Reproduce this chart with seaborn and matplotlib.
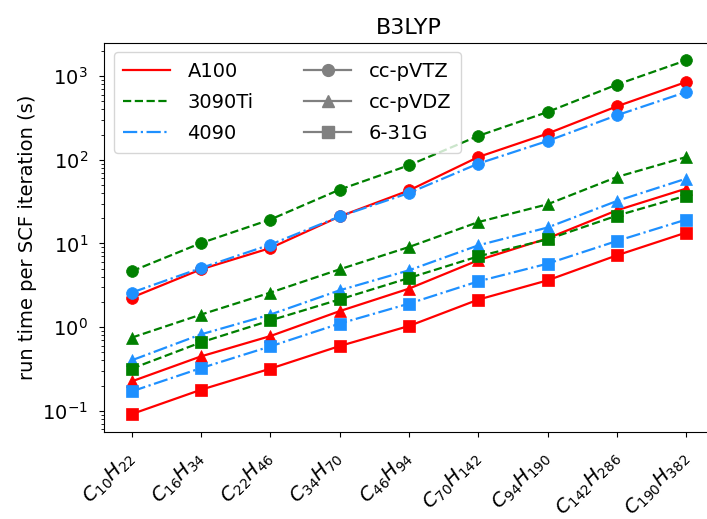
import matplotlib
matplotlib.use("Agg")
import matplotlib.pyplot as plt
import seaborn as sns
import pandas as pd
from matplotlib.lines import Line2D

molecules = ["C10H22", "C16H34", "C22H46", "C34H70", "C46H94",
             "C70H142", "C94H190", "C142H286", "C190H382"]
tick_labels = [r"$C_{10}H_{22}$", r"$C_{16}H_{34}$", r"$C_{22}H_{46}$",
               r"$C_{34}H_{70}$", r"$C_{46}H_{94}$", r"$C_{70}H_{142}$",
               r"$C_{94}H_{190}$", r"$C_{142}H_{286}$", r"$C_{190}H_{382}$"]

gpus = ["A100", "3090Ti", "4090"]
bases = ["cc-pVTZ", "cc-pVDZ", "6-31G"]

# run time per SCF iteration (s)
a100_tz = [2.25, 4.9, 8.8, 21, 43, 108, 206, 436, 853]
a100_dz = [0.224, 0.446, 0.78, 1.55, 2.88, 6.3, 11.5, 24.9, 45.3]
a100_631g = [0.091, 0.178, 0.318, 0.593, 1.03, 2.13, 3.62, 7.21, 13.5]

rtx3090ti_tz = [4.64, 10.1, 19.3, 44, 86, 193, 373, 794, 1549]
rtx3090ti_dz = [0.747, 1.41, 2.58, 4.9, 9.06, 18.0, 29.4, 62.3, 108]
rtx3090ti_631g = [0.318, 0.656, 1.2, 2.14, 3.86, 7.01, 11.2, 21.5, 37.3]

rtx4090_tz = [2.58, 5.08, 9.68, 21, 40.1, 90, 168, 341, 647]
rtx4090_dz = [0.40, 0.818, 1.41, 2.75, 4.77, 9.49, 15.5, 32.2, 59.6]
rtx4090_631g = [0.170, 0.323, 0.587, 1.10, 1.905, 3.52, 5.73, 10.7, 19.3]

timings = {
    ("A100", "cc-pVTZ"): a100_tz, ("A100", "cc-pVDZ"): a100_dz, ("A100", "6-31G"): a100_631g,
    ("3090Ti", "cc-pVTZ"): rtx3090ti_tz, ("3090Ti", "cc-pVDZ"): rtx3090ti_dz, ("3090Ti", "6-31G"): rtx3090ti_631g,
    ("4090", "cc-pVTZ"): rtx4090_tz, ("4090", "cc-pVDZ"): rtx4090_dz, ("4090", "6-31G"): rtx4090_631g,
}

colors = {"A100": "red", "3090Ti": "green", "4090": "dodgerblue"}
styles = {"A100": "-", "3090Ti": "--", "4090": "-."}
markers = {"cc-pVTZ": "o", "cc-pVDZ": "^", "6-31G": "s"}

plt.rcParams["font.size"] = 14
fig = plt.figure(figsize=(7.07, 5.19), dpi=100)
ax = fig.add_axes([0.147, 0.168, 0.863, 0.750])

for basis in bases:
    for gpu in gpus:
        df = pd.DataFrame({"x": range(len(molecules)), "t": timings[(gpu, basis)]})
        sns.lineplot(data=df, x="x", y="t", ax=ax, color=colors[gpu],
                     linestyle=styles[gpu], marker=markers[basis],
                     markersize=8.5, linewidth=1.6, markeredgewidth=0.5,
                     markeredgecolor=colors[gpu], legend=False)

ax.set_yscale("log")
ax.set_xticks(range(len(molecules)))
ax.set_xticklabels(tick_labels, rotation=45, ha="right", va="center",
                   rotation_mode="anchor")
ax.tick_params(axis="y", pad=8)
ax.tick_params(axis="x", pad=13)
ax.set_xlabel("")
ax.set_ylabel("run time per SCF iteration (s)")
ax.set_title("B3LYP", fontsize=16)

handles = [Line2D([], [], color=colors[g], linestyle=styles[g], linewidth=1.6) for g in gpus]
handles += [Line2D([], [], color="gray", marker=markers[b], markersize=8.5, linewidth=1.6) for b in bases]
ax.legend(handles, gpus + bases, ncol=2, loc="upper left", handlelength=2.4,
          labelspacing=0.62, columnspacing=2.6, handletextpad=0.9, borderpad=0.5)

fig.savefig("out.png", dpi=100)
